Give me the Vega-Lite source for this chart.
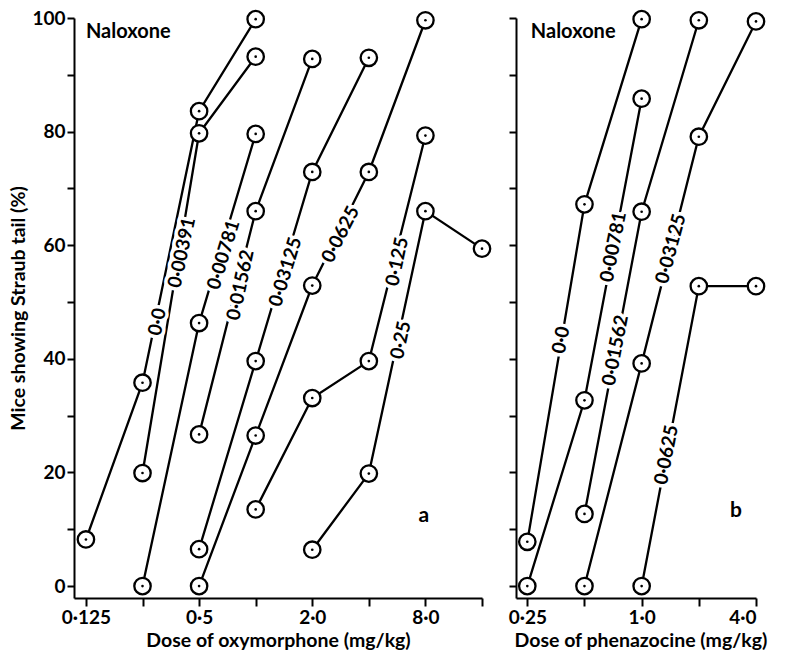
{
  "$schema": "https://vega.github.io/schema/vega-lite/v6.json",
  "background": "white",
  "padding": {"left": 8, "top": 6, "right": 0, "bottom": 0},
  "spacing": 13,
  "config": {
    "view": {"stroke": null},
    "font": "Lato",
    "axis": {
      "grid": false,
      "domainColor": "black",
      "domainWidth": 2,
      "tickColor": "black",
      "tickWidth": 2,
      "tickSize": 7,
      "labelFont": "Lato",
      "labelFontSize": 19,
      "labelFontWeight": "bold",
      "labelColor": "black",
      "labelPadding": 2,
      "titleFont": "Lato",
      "titleFontSize": 19.5,
      "titleFontWeight": "bold",
      "titleColor": "black"
    }
  },
  "datasets": {
    "ptsA": [
      {"series": "0·0", "dose": 0.125, "pct": 8.2},
      {"series": "0·0", "dose": 0.25, "pct": 35.8},
      {"series": "0·0", "dose": 0.5, "pct": 83.6},
      {"series": "0·0", "dose": 1, "pct": 99.8},
      {"series": "0·00391", "dose": 0.25, "pct": 19.9},
      {"series": "0·00391", "dose": 0.5, "pct": 79.7},
      {"series": "0·00391", "dose": 1, "pct": 93.2},
      {"series": "0·00781", "dose": 0.25, "pct": 0},
      {"series": "0·00781", "dose": 0.5, "pct": 46.3},
      {"series": "0·00781", "dose": 1, "pct": 79.6},
      {"series": "0·01562", "dose": 0.5, "pct": 26.7},
      {"series": "0·01562", "dose": 1, "pct": 66},
      {"series": "0·01562", "dose": 2, "pct": 92.8},
      {"series": "0·03125", "dose": 0.5, "pct": 6.5},
      {"series": "0·03125", "dose": 1, "pct": 39.6},
      {"series": "0·03125", "dose": 2, "pct": 72.9},
      {"series": "0·03125", "dose": 4, "pct": 93},
      {"series": "0·0625", "dose": 0.5, "pct": 0},
      {"series": "0·0625", "dose": 1, "pct": 26.5},
      {"series": "0·0625", "dose": 2, "pct": 52.9},
      {"series": "0·0625", "dose": 4, "pct": 72.9},
      {"series": "0·0625", "dose": 8, "pct": 99.6},
      {"series": "0·125", "dose": 1, "pct": 13.5},
      {"series": "0·125", "dose": 2, "pct": 33.1},
      {"series": "0·125", "dose": 4, "pct": 39.6},
      {"series": "0·125", "dose": 8, "pct": 79.3},
      {"series": "0·25", "dose": 2, "pct": 6.4},
      {"series": "0·25", "dose": 4, "pct": 19.8},
      {"series": "0·25", "dose": 8, "pct": 66},
      {"series": "0·25", "dose": 16, "pct": 59.4}
    ],
    "ptsB": [
      {"series": "0·0", "dose": 0.25, "pct": 7.8},
      {"series": "0·0", "dose": 0.5, "pct": 67.2},
      {"series": "0·0", "dose": 1, "pct": 99.8},
      {"series": "0·00781", "dose": 0.25, "pct": 0},
      {"series": "0·00781", "dose": 0.5, "pct": 32.7},
      {"series": "0·00781", "dose": 1, "pct": 85.8},
      {"series": "0·01562", "dose": 0.5, "pct": 12.7},
      {"series": "0·01562", "dose": 1, "pct": 65.9},
      {"series": "0·01562", "dose": 2, "pct": 99.6},
      {"series": "0·03125", "dose": 0.5, "pct": 0},
      {"series": "0·03125", "dose": 1, "pct": 39.2},
      {"series": "0·03125", "dose": 2, "pct": 79.1},
      {"series": "0·03125", "dose": 4, "pct": 99.4},
      {"series": "0·0625", "dose": 1, "pct": 0},
      {"series": "0·0625", "dose": 2, "pct": 52.8},
      {"series": "0·0625", "dose": 4, "pct": 52.8}
    ],
    "labA": [
      {"series": "0·0", "dose": 0.3, "pct": 46.5},
      {"series": "0·00391", "dose": 0.405, "pct": 58.7},
      {"series": "0·00781", "dose": 0.675, "pct": 58.3},
      {"series": "0·01562", "dose": 0.831, "pct": 53.0},
      {"series": "0·03125", "dose": 1.441, "pct": 55.3},
      {"series": "0·0625", "dose": 2.83, "pct": 61.9},
      {"series": "0·125", "dose": 5.66, "pct": 57.1},
      {"series": "0·25", "dose": 5.92, "pct": 43.3}
    ],
    "labB": [
      {"series": "0·0", "dose": 0.377, "pct": 43.3},
      {"series": "0·00781", "dose": 0.71, "pct": 59.7},
      {"series": "0·01562", "dose": 0.728, "pct": 41.5},
      {"series": "0·03125", "dose": 1.425, "pct": 59.4},
      {"series": "0·0625", "dose": 1.352, "pct": 23.1}
    ],
    "noteA": [
      {"txt": "Naloxone", "dose": 0.125, "pct": 97.5, "kind": "title"},
      {"txt": "a", "dose": 7.84, "pct": 12.3, "kind": "panel"}
    ],
    "noteB": [
      {"txt": "Naloxone", "dose": 0.261, "pct": 97.5, "kind": "title"},
      {"txt": "b", "dose": 3.14, "pct": 13.3, "kind": "panel"}
    ]
  },
  "hconcat": [
    {
      "width": 408,
      "height": 580,
      "encoding": {
        "x": {
          "field": "dose", "type": "quantitative",
          "scale": {"type": "log", "base": 2, "domain": [0.108, 16], "nice": false},
          "axis": {
            "values": [0.125, 0.25, 0.5, 1, 2, 4, 8, 16],
            "labelExpr": "datum.value == 0.125 ? '0·125' : datum.value == 0.5 ? '0·5' : datum.value == 2 ? '2·0' : datum.value == 8 ? '8·0' : ''",
            "tickSize": 8,
            "title": "Dose of oxymorphone (mg/kg)",
            "titlePadding": 4
          }
        },
        "y": {
          "field": "pct", "type": "quantitative",
          "scale": {"domain": [-2.1, 100], "nice": false, "zero": false},
          "axis": {
            "values": [0, 10, 20, 30, 40, 50, 60, 70, 80, 90, 100],
            "labelExpr": "datum.value % 20 == 0 ? datum.label : ''",
            "title": "Mice showing Straub tail (%)",
            "titlePadding": 3
          }
        }
      },
      "layer": [
        {"data": {"name": "ptsA"}, "mark": {"type": "line", "color": "black", "strokeWidth": 2.3}, "encoding": {"detail": {"field": "series"}}},
        {"data": {"name": "labA"}, "transform": [{"filter": {"field": "series", "oneOf": ["0·0", "0·00391", "0·01562", "0·125", "0·25"]}}],
         "mark": {"type": "text", "angle": -78, "fontSize": 19, "fontWeight": "bold", "stroke": "white", "strokeWidth": 7, "strokeJoin": "round", "align": "center", "baseline": "middle", "color": "white"},
         "encoding": {"text": {"field": "series"}}},
        {"data": {"name": "labA"}, "transform": [{"filter": {"field": "series", "oneOf": ["0·00781", "0·03125"]}}],
         "mark": {"type": "text", "angle": -73, "fontSize": 19, "fontWeight": "bold", "stroke": "white", "strokeWidth": 7, "strokeJoin": "round", "align": "center", "baseline": "middle", "color": "white"},
         "encoding": {"text": {"field": "series"}}},
        {"data": {"name": "labA"}, "transform": [{"filter": {"field": "series", "oneOf": ["0·0625"]}}],
         "mark": {"type": "text", "angle": -63, "fontSize": 19, "fontWeight": "bold", "stroke": "white", "strokeWidth": 7, "strokeJoin": "round", "align": "center", "baseline": "middle", "color": "white"},
         "encoding": {"text": {"field": "series"}}},
        {"data": {"name": "labA"}, "transform": [{"filter": {"field": "series", "oneOf": ["0·0", "0·00391", "0·01562", "0·125", "0·25"]}}],
         "mark": {"type": "text", "angle": -78, "fontSize": 19, "fontWeight": "bold", "align": "center", "baseline": "middle", "color": "black"},
         "encoding": {"text": {"field": "series"}}},
        {"data": {"name": "labA"}, "transform": [{"filter": {"field": "series", "oneOf": ["0·00781", "0·03125"]}}],
         "mark": {"type": "text", "angle": -73, "fontSize": 19, "fontWeight": "bold", "align": "center", "baseline": "middle", "color": "black"},
         "encoding": {"text": {"field": "series"}}},
        {"data": {"name": "labA"}, "transform": [{"filter": {"field": "series", "oneOf": ["0·0625"]}}],
         "mark": {"type": "text", "angle": -63, "fontSize": 19, "fontWeight": "bold", "align": "center", "baseline": "middle", "color": "black"},
         "encoding": {"text": {"field": "series"}}},
        {"data": {"name": "ptsA"}, "mark": {"type": "point", "shape": "circle", "size": 270, "filled": false, "fill": "white", "fillOpacity": 1, "stroke": "black", "strokeWidth": 2.3, "opacity": 1}},
        {"data": {"name": "ptsA"}, "mark": {"type": "point", "shape": "circle", "size": 7, "filled": true, "color": "black", "opacity": 1}},
        {"data": {"name": "noteA"}, "transform": [{"filter": "datum.kind == 'title'"}], "mark": {"type": "text", "align": "left", "baseline": "middle", "fontSize": 20, "fontWeight": "bold", "color": "black"}, "encoding": {"text": {"field": "txt"}}},
        {"data": {"name": "noteA"}, "transform": [{"filter": "datum.kind == 'panel'"}], "mark": {"type": "text", "align": "center", "baseline": "middle", "fontSize": 21, "fontWeight": "bold", "color": "black"}, "encoding": {"text": {"field": "txt"}}}
      ]
    },
    {
      "width": 240,
      "height": 580,
      "encoding": {
        "x": {
          "field": "dose", "type": "quantitative",
          "scale": {"type": "log", "base": 2, "domain": [0.218, 4.0], "nice": false},
          "axis": {
            "values": [0.25, 0.5, 1, 2, 4],
            "labelExpr": "datum.value == 0.25 ? '0·25' : datum.value == 1 ? '1·0' : datum.value == 4 ? '4·0' : ''",
            "tickSize": 8,
            "title": "Dose of phenazocine (mg/kg)",
            "titleAnchor": "start",
            "titleX": -2,
            "titlePadding": 4
          }
        },
        "y": {
          "field": "pct", "type": "quantitative",
          "scale": {"domain": [-2.1, 100], "nice": false, "zero": false},
          "axis": {
            "values": [0, 10, 20, 30, 40, 50, 60, 70, 80, 90, 100],
            "labels": false,
            "title": null
          }
        }
      },
      "layer": [
        {"data": {"name": "ptsB"}, "mark": {"type": "line", "color": "black", "strokeWidth": 2.3}, "encoding": {"detail": {"field": "series"}}},
        {"data": {"name": "labB"}, "transform": [{"filter": {"field": "series", "oneOf": ["0·0", "0·00781", "0·01562", "0·0625"]}}],
         "mark": {"type": "text", "angle": -79, "fontSize": 19, "fontWeight": "bold", "stroke": "white", "strokeWidth": 7, "strokeJoin": "round", "align": "center", "baseline": "middle", "color": "white"},
         "encoding": {"text": {"field": "series"}}},
        {"data": {"name": "labB"}, "transform": [{"filter": {"field": "series", "oneOf": ["0·03125"]}}],
         "mark": {"type": "text", "angle": -75, "fontSize": 19, "fontWeight": "bold", "stroke": "white", "strokeWidth": 7, "strokeJoin": "round", "align": "center", "baseline": "middle", "color": "white"},
         "encoding": {"text": {"field": "series"}}},
        {"data": {"name": "labB"}, "transform": [{"filter": {"field": "series", "oneOf": ["0·0", "0·00781", "0·01562", "0·0625"]}}],
         "mark": {"type": "text", "angle": -79, "fontSize": 19, "fontWeight": "bold", "align": "center", "baseline": "middle", "color": "black"},
         "encoding": {"text": {"field": "series"}}},
        {"data": {"name": "labB"}, "transform": [{"filter": {"field": "series", "oneOf": ["0·03125"]}}],
         "mark": {"type": "text", "angle": -75, "fontSize": 19, "fontWeight": "bold", "align": "center", "baseline": "middle", "color": "black"},
         "encoding": {"text": {"field": "series"}}},
        {"data": {"name": "ptsB"}, "mark": {"type": "point", "shape": "circle", "size": 270, "filled": false, "fill": "white", "fillOpacity": 1, "stroke": "black", "strokeWidth": 2.3, "opacity": 1}},
        {"data": {"name": "ptsB"}, "mark": {"type": "point", "shape": "circle", "size": 7, "filled": true, "color": "black", "opacity": 1}},
        {"data": {"name": "noteB"}, "transform": [{"filter": "datum.kind == 'title'"}], "mark": {"type": "text", "align": "left", "baseline": "middle", "fontSize": 20, "fontWeight": "bold", "color": "black"}, "encoding": {"text": {"field": "txt"}}},
        {"data": {"name": "noteB"}, "transform": [{"filter": "datum.kind == 'panel'"}], "mark": {"type": "text", "align": "center", "baseline": "middle", "fontSize": 21, "fontWeight": "bold", "color": "black"}, "encoding": {"text": {"field": "txt"}}}
      ]
    }
  ]
}
